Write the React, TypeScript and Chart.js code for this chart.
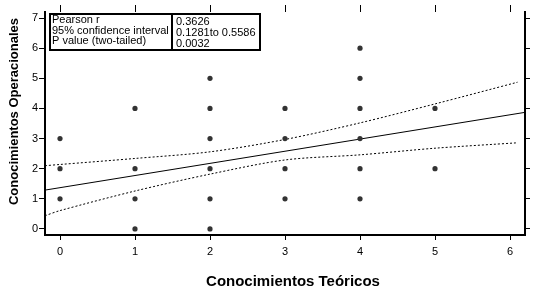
import React, { useEffect, useRef } from 'react';
import { Chart, registerables } from 'chart.js';

Chart.register(...registerables);

const xTickValues = [0, 1, 2, 3, 4, 5, 6];
const yTickValues = [0, 1, 2, 3, 4, 5, 6, 7];

const pointX = [0, 0, 0, 1, 1, 1, 1, 2, 2, 2, 2, 2, 2, 3, 3, 3, 3, 4, 4, 4, 4, 4, 4, 5, 5];
const pointY = [3, 2, 1, 4, 2, 1, 0, 5, 4, 3, 2, 1, 0, 4, 3, 2, 1, 6, 5, 4, 3, 2, 1, 4, 2];

const fitX = [-0.2, 6.2];
const fitY = [1.29, 3.87];

const bandX = [-0.2, 0, 1, 2, 3, 4, 5, 6.1];
const upperY = [2.1, 2.14, 2.34, 2.56, 2.97, 3.52, 4.15, 4.87];
const lowerY = [0.44, 0.61, 1.26, 1.82, 2.29, 2.46, 2.68, 2.86];

const statLabels = ['Pearson r', '95% confidence interval', 'P value (two-tailed)'];
const statValues = ['0.3626', '0.1281to 0.5586', '0.0032'];

const xTitle = 'Conocimientos Teóricos';
const yTitle = 'Conocimientos Operacionales';

const FONT = 'Arial, "Liberation Sans", sans-serif';

const overlayPlugin = {
  id: 'overlay',
  afterDraw(chart: any) {
    const ctx = chart.ctx;
    const ca = chart.chartArea;
    ctx.save();
    // stats box
    const bx = ca.left + 5;
    const by = ca.top + 2;
    const bw = 210;
    const bh = 36;
    const div = bx + 122;
    ctx.strokeStyle = '#000';
    ctx.lineWidth = 2;
    ctx.strokeRect(bx, by, bw, bh);
    ctx.beginPath();
    ctx.moveTo(div, by);
    ctx.lineTo(div, by + bh);
    ctx.stroke();
    ctx.fillStyle = '#000';
    ctx.font = `11px ${FONT}`;
    ctx.textAlign = 'left';
    ctx.textBaseline = 'alphabetic';
    statLabels.forEach((t, i) => ctx.fillText(t, bx + 2, by + 9 + i * 10.5));
    statValues.forEach((t, i) => ctx.fillText(t, div + 4, by + 11 + i * 10.8));
    // axis titles
    ctx.font = `bold 15px ${FONT}`;
    ctx.textAlign = 'center';
    ctx.fillText(xTitle, (ca.left + ca.right) / 2 + 8, 286);
    ctx.save();
    ctx.translate(18, (ca.top + ca.bottom) / 2 - 12);
    ctx.rotate(-Math.PI / 2);
    ctx.font = `bold 13px ${FONT}`;
    ctx.fillText(yTitle, 0, 0);
    ctx.restore();
    ctx.restore();
  },
};

export default function App() {
  const ref = useRef<HTMLCanvasElement | null>(null);
  useEffect(() => {
    document.body.style.margin = '0';
    if (!ref.current) return;
    Chart.defaults.color = '#000';
    const tickFont = { family: FONT, size: 11 };
    const chart = new Chart(ref.current, {
      type: 'scatter',
      data: {
        datasets: [
          {
            data: pointX.map((x, i) => ({ x, y: pointY[i] })),
            backgroundColor: '#333333',
            borderWidth: 0,
            pointRadius: 2.6,
            showLine: false,
          },
          {
            data: fitX.map((x, i) => ({ x, y: fitY[i] })),
            showLine: true,
            borderColor: '#000',
            borderWidth: 1,
            pointRadius: 0,
          },
          {
            data: bandX.map((x, i) => ({ x, y: upperY[i] })),
            showLine: true,
            borderColor: '#000',
            borderWidth: 1,
            borderDash: [2, 2],
            pointRadius: 0,
            tension: 0.3,
          },
          {
            data: bandX.map((x, i) => ({ x, y: lowerY[i] })),
            showLine: true,
            borderColor: '#000',
            borderWidth: 1,
            borderDash: [2, 2],
            pointRadius: 0,
            tension: 0.3,
          },
        ],
      } as any,
      options: {
        animation: false,
        responsive: false,
        layout: { padding: 0 },
        plugins: { legend: { display: false }, tooltip: { enabled: false } },
        scales: {
          x: {
            type: 'linear',
            position: 'bottom',
            min: -0.2,
            max: 6.2,
            afterBuildTicks: (s: any) => { s.ticks = xTickValues.map((v) => ({ value: v })); },
            afterFit: (s: any) => { s.height = 58; },
            ticks: { font: tickFont, padding: 5, maxRotation: 0, color: '#000' },
            grid: { drawOnChartArea: false, drawTicks: true, tickLength: 5, tickColor: '#000', tickWidth: 1 },
            border: { display: true, color: '#000', width: 2 },
          },
          x2: {
            type: 'linear',
            position: 'top',
            min: -0.2,
            max: 6.2,
            afterBuildTicks: (s: any) => { s.ticks = xTickValues.map((v) => ({ value: v })); },
            afterFit: (s: any) => { s.height = 12; },
            ticks: { display: false },
            grid: { drawOnChartArea: false, drawTicks: true, tickLength: 7, tickColor: '#000', tickWidth: 1 },
            border: { display: false },
          },
          y: {
            type: 'linear',
            position: 'left',
            min: -0.2,
            max: 7.2,
            afterBuildTicks: (s: any) => { s.ticks = yTickValues.map((v) => ({ value: v })); },
            afterFit: (s: any) => { s.width = 45; },
            ticks: { font: tickFont, padding: 1, color: '#000' },
            grid: { drawOnChartArea: false, drawTicks: true, tickLength: 6, tickColor: '#000', tickWidth: 1 },
            border: { display: true, color: '#000', width: 2 },
          },
          y2: {
            type: 'linear',
            position: 'right',
            min: -0.2,
            max: 7.2,
            afterBuildTicks: (s: any) => { s.ticks = yTickValues.map((v) => ({ value: v })); },
            afterFit: (s: any) => { s.width = 13; },
            ticks: { display: false },
            grid: { drawOnChartArea: false, drawTicks: true, tickLength: 5, tickColor: '#000', tickWidth: 1 },
            border: { display: true, color: '#000', width: 2 },
          },
        },
      } as any,
      plugins: [overlayPlugin],
    });
    return () => chart.destroy();
  }, []);
  return (
    <div style={{ width: 538, height: 293, background: '#fff' }}>
      <canvas ref={ref} width={538} height={293} />
    </div>
  );
}
